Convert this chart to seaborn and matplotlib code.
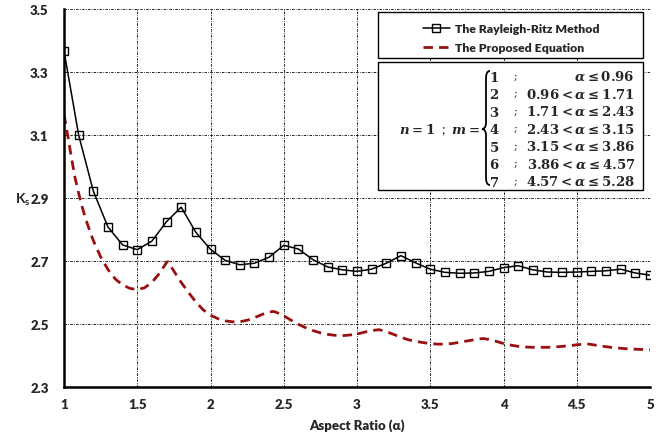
import numpy as np
import pandas as pd
import matplotlib
matplotlib.use("Agg")
import matplotlib.pyplot as plt
import seaborn as sns
from matplotlib.patches import Rectangle, PathPatch
from matplotlib.path import Path

# ---------------- data ----------------
rr_alpha = [1.0, 1.1, 1.2, 1.3, 1.4, 1.5, 1.6, 1.7, 1.8, 1.9, 2.0, 2.1, 2.2, 2.3, 2.4, 2.5,
            2.6, 2.7, 2.8, 2.9, 3.0, 3.1, 3.2, 3.3, 3.4, 3.5, 3.6, 3.7, 3.8, 3.9, 4.0, 4.1,
            4.2, 4.3, 4.4, 4.5, 4.6, 4.7, 4.8, 4.9, 5.0]
rr_k = [3.367, 3.100, 2.922, 2.808, 2.751, 2.736, 2.763, 2.825, 2.871, 2.791, 2.737, 2.702,
        2.688, 2.693, 2.712, 2.750, 2.738, 2.704, 2.681, 2.672, 2.667, 2.674, 2.693, 2.717,
        2.694, 2.674, 2.664, 2.661, 2.662, 2.667, 2.679, 2.685, 2.672, 2.665, 2.664, 2.665,
        2.667, 2.669, 2.674, 2.662, 2.655]

prop_alpha = [1.00, 1.025, 1.05, 1.075, 1.10, 1.125, 1.15, 1.20, 1.25, 1.30, 1.35, 1.40, 1.45,
              1.50, 1.55, 1.60, 1.65, 1.70, 1.71, 1.75, 1.80, 1.85, 1.90, 1.95, 2.00, 2.05,
              2.10, 2.15, 2.20, 2.25, 2.30, 2.35, 2.40, 2.43, 2.45, 2.50, 2.55, 2.60, 2.65,
              2.70, 2.75, 2.80, 2.85, 2.90, 2.95, 3.00, 3.05, 3.10, 3.15, 3.20, 3.25, 3.30,
              3.35, 3.40, 3.45, 3.50, 3.55, 3.60, 3.65, 3.70, 3.75, 3.80, 3.86, 3.90, 3.95,
              4.00, 4.05, 4.10, 4.15, 4.20, 4.25, 4.30, 4.35, 4.40, 4.45, 4.50, 4.57, 4.60,
              4.65, 4.70, 4.75, 4.80, 4.85, 4.90, 4.95, 5.00]
prop_k = [3.165, 3.100, 3.030, 2.965, 2.915, 2.870, 2.830, 2.765, 2.713, 2.673, 2.643, 2.624,
          2.613, 2.609, 2.615, 2.632, 2.660, 2.695, 2.698, 2.668, 2.632, 2.600, 2.570, 2.545,
          2.528, 2.517, 2.510, 2.507, 2.507, 2.512, 2.520, 2.530, 2.538, 2.540, 2.537, 2.526,
          2.512, 2.499, 2.488, 2.479, 2.472, 2.467, 2.464, 2.463, 2.465, 2.468, 2.474, 2.479,
          2.482, 2.476, 2.467, 2.458, 2.450, 2.445, 2.441, 2.438, 2.436, 2.436, 2.438, 2.442,
          2.446, 2.450, 2.454, 2.451, 2.445, 2.438, 2.433, 2.429, 2.427, 2.426, 2.426, 2.426,
          2.427, 2.429, 2.431, 2.434, 2.437, 2.435, 2.431, 2.428, 2.425, 2.423, 2.421, 2.420,
          2.419, 2.418]

x_ticks = [1, 1.5, 2, 2.5, 3, 3.5, 4, 4.5, 5]
x_tick_labels = ["1", "1.5", "2", "2.5", "3", "3.5", "4", "4.5", "5"]
y_ticks = [2.3, 2.5, 2.7, 2.9, 3.1, 3.3, 3.5]
y_tick_labels = ["2.3", "2.5", "2.7", "2.9", "3.1", "3.3", "3.5"]

series_names = ["The Rayleigh-Ritz Method", "The Proposed Equation"]
m_values = ["1", "2", "3", "4", "5", "6", "7"]
m_conditions = [r"$\alpha \leq 0.96$", r"$0.96 < \alpha \leq 1.71$",
                r"$1.71 < \alpha \leq 2.43$", r"$2.43 < \alpha \leq 3.15$",
                r"$3.15 < \alpha \leq 3.86$", r"$3.86 < \alpha \leq 4.57$",
                r"$4.57 < \alpha \leq 5.28$"]

# ---------------- style ----------------
sns.set_style("white")
plt.rcParams["font.family"] = ["Lato", "DejaVu Sans"]
plt.rcParams["mathtext.fontset"] = "custom"
plt.rcParams["mathtext.rm"] = "DejaVu Serif:bold"
plt.rcParams["mathtext.it"] = "DejaVu Serif:italic:bold"
plt.rcParams["mathtext.bf"] = "DejaVu Serif:bold"
plt.rcParams["mathtext.sf"] = "Lato:bold"

W, H = 658, 435
fig = plt.figure(figsize=(W / 100, H / 100), dpi=100)
L, R, T, B = 64, 650, 10, 388
ax = fig.add_axes([L / W, 1 - B / H, (R - L) / W, (B - T) / H])

def ax_x(px):
    return (px - L) / (R - L)

def ax_y(py):
    return (B - py) / (B - T)

df_rr = pd.DataFrame({"alpha": rr_alpha, "K": rr_k})
df_prop = pd.DataFrame({"alpha": prop_alpha, "K": prop_k})

sns.lineplot(data=df_prop, x="alpha", y="K", ax=ax, color="#9a1010", lw=2.0,
             dashes=False, linestyle=(0, (3.4, 2.2)), label=series_names[1], zorder=3)
sns.lineplot(data=df_rr, x="alpha", y="K", ax=ax, color="black", lw=1.1,
             marker="s", markersize=5.5, markerfacecolor="none", markeredgecolor="black",
             markeredgewidth=1.0, label=series_names[0], zorder=4)

ax.set_xlim(1, 5)
ax.set_ylim(2.3, 3.5)
ax.set_xticks(x_ticks)
ax.set_xticklabels(x_tick_labels)
ax.set_yticks(y_ticks)
ax.set_yticklabels(y_tick_labels)
ax.tick_params(axis="x", length=0, labelsize=9.5, pad=8)
ax.tick_params(axis="y", length=0, labelsize=9.5, pad=11)
for lab in ax.get_xticklabels() + ax.get_yticklabels():
    lab.set_fontweight("heavy")

ax.grid(True, color="black", linestyle=(0, (3, 1.5, 1, 1.5)), linewidth=0.6)
ax.set_axisbelow(True)
for s in ["top", "right"]:
    ax.spines[s].set_visible(False)
for s in ["left", "bottom"]:
    ax.spines[s].set_color("black")
    ax.spines[s].set_linewidth(1.8)
    ax.spines[s].set_zorder(5)

ax.set_xlabel("Aspect Ratio (α)", fontsize=9.5, fontweight="heavy", labelpad=6)
ax.set_ylabel(r"$\mathsf{K_s}$", fontsize=10, rotation=0, labelpad=0, va="center")
ax.yaxis.set_label_coords(-0.07, 0.497)

# legend box
ax.add_patch(Rectangle((ax_x(378), ax_y(59.3)), ax_x(643) - ax_x(378), ax_y(12.7) - ax_y(59.3),
                       transform=ax.transAxes, facecolor="white", edgecolor="black",
                       lw=1.0, zorder=6))
handles, labels = ax.get_legend_handles_labels()
order = [labels.index(series_names[0]), labels.index(series_names[1])]
leg = ax.legend([handles[i] for i in order], [labels[i] for i in order],
                loc="upper center", bbox_to_anchor=(ax_x(511), ax_y(14)), frameon=False,
                prop={"weight": "heavy", "size": 8.8}, handlelength=2.2, handletextpad=0.4,
                labelspacing=0.7, borderpad=0.3)
leg.set_zorder(7)

# equation box
ax.add_patch(Rectangle((ax_x(378), ax_y(190.7)), ax_x(643) - ax_x(378), ax_y(63.3) - ax_y(190.7),
                       transform=ax.transAxes, facecolor="white", edgecolor="black",
                       lw=1.0, zorder=6))
ax.text(ax_x(480), ax_y(130), r"$n = 1$  ;  $m =$", transform=ax.transAxes,
        ha="right", va="center", fontsize=9.5, zorder=8)

# curly brace
xl, xm, xr = 482, 486, 490
yt, yc, yb = 72, 130, 186
pts = [(xr, yt), (xm + 1, yt), (xm, yt + 3), (xm, yt + 8),
       (xm, yc - 6),
       (xm, yc - 2), (xl + 2, yc), (xl, yc),
       (xl + 2, yc), (xm, yc + 2), (xm, yc + 6),
       (xm, yb - 8),
       (xm, yb - 3), (xm + 1, yb), (xr, yb)]
codes = [Path.MOVETO, Path.CURVE4, Path.CURVE4, Path.CURVE4,
         Path.LINETO,
         Path.CURVE4, Path.CURVE4, Path.CURVE4,
         Path.CURVE4, Path.CURVE4, Path.CURVE4,
         Path.LINETO,
         Path.CURVE4, Path.CURVE4, Path.CURVE4]
brace = Path([(ax_x(px), ax_y(py)) for px, py in pts], codes)
ax.add_patch(PathPatch(brace, transform=ax.transAxes, facecolor="none", edgecolor="black",
                       lw=1.3, zorder=8))

for i, (mv, cond) in enumerate(zip(m_values, m_conditions)):
    py = 76.7 + 17.5 * i
    ax.text(ax_x(489), ax_y(py), r"$\mathrm{" + mv + "}$", transform=ax.transAxes,
            ha="left", va="center", fontsize=9.5, zorder=8)
    ax.text(ax_x(516), ax_y(py), ";", transform=ax.transAxes, family="DejaVu Serif",
            ha="center", va="center", fontsize=8, zorder=8)
    ax.text(ax_x(635), ax_y(py), cond, transform=ax.transAxes,
            ha="right", va="center", fontsize=9.5, zorder=8)

fig.savefig("out.png", dpi=100)
